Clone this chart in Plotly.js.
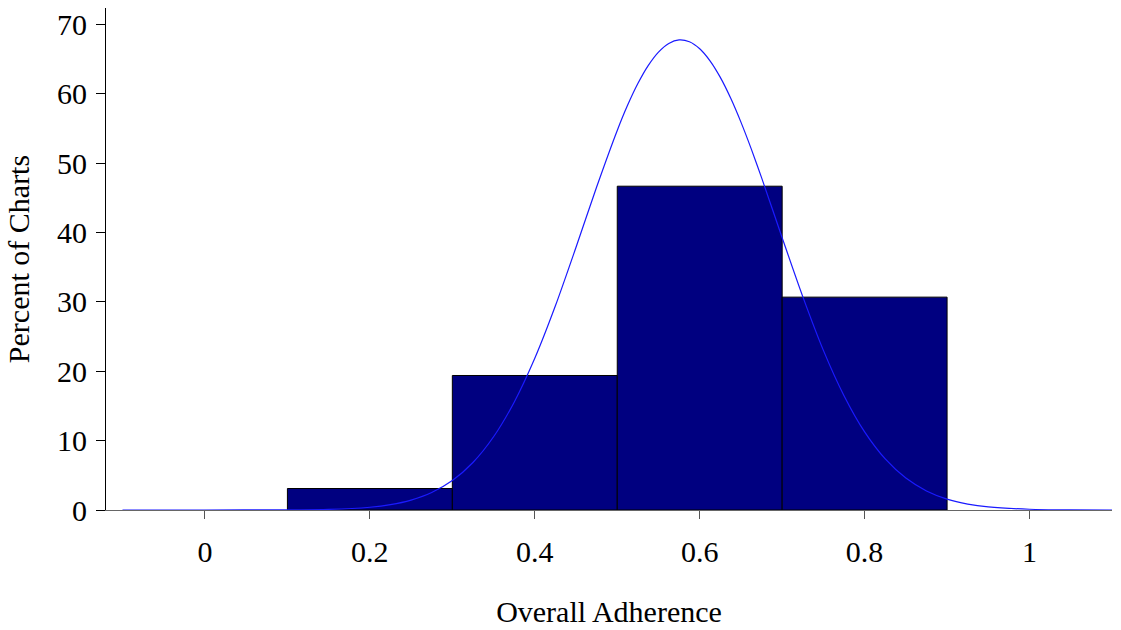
<!DOCTYPE html>
<html>
<head>
<meta charset="utf-8">
<script src="https://cdn.plot.ly/plotly-3.0.1.min.js"></script>
<style>html,body{margin:0;padding:0;background:#fff;}#chart{width:1121px;height:630px;}</style>
</head>
<body>
<div id="chart"></div>
<script>
// Histogram bins (bin centers, width 0.2) and percent of charts
const binCenters = [0.2, 0.4, 0.6, 0.8];
const binPercent = [3.1, 19.4, 46.7, 30.7];
const binWidth = 0.2;

// Fitted normal curve
const curveX = [-0.1, 0.0, 0.1, 0.15, 0.2, 0.225, 0.25, 0.275, 0.3, 0.325, 0.35, 0.375, 0.4, 0.425, 0.45, 0.475, 0.5, 0.5125, 0.525, 0.5375, 0.55, 0.5625, 0.575, 0.5875, 0.6, 0.6125, 0.625, 0.6375, 0.65, 0.6625, 0.675, 0.7, 0.725, 0.75, 0.775, 0.8, 0.825, 0.85, 0.875, 0.9, 0.925, 0.95, 1.0, 1.05, 1.1];
const curveY = [0, 0, 0.02, 0.09, 0.4, 0.77, 1.43, 2.52, 4.25, 6.85, 10.56, 15.55, 21.88, 29.45, 37.89, 46.58, 54.74, 58.36, 61.5, 64.09, 66.04, 67.29, 67.79, 67.53, 66.52, 64.78, 62.39, 59.41, 55.94, 52.08, 47.94, 39.27, 30.77, 23.02, 16.48, 11.26, 7.36, 4.6, 2.75, 1.57, 0.86, 0.45, 0.11, 0.02, 0];

const xTicks = [0, 0.2, 0.4, 0.6, 0.8, 1];
const xTickText = ['0', '0.2', '0.4', '0.6', '0.8', '1'];
const yTicks = [0, 10, 20, 30, 40, 50, 60, 70];

const font = 'Liberation Serif, Times New Roman, serif';

const traces = [
  {
    type: 'bar',
    x: binCenters,
    y: binPercent,
    width: binPercent.map(() => binWidth),
    marker: {color: '#000080', line: {color: '#000000', width: 1}},
    hoverinfo: 'x+y'
  },
  {
    type: 'scatter',
    mode: 'lines',
    x: curveX,
    y: curveY,
    line: {color: '#1a1aff', width: 1.2, shape: 'spline', smoothing: 0.8},
    hoverinfo: 'x+y'
  }
];

const layout = {
  width: 1121,
  height: 630,
  margin: {l: 106, r: 9, t: 8, b: 120},
  paper_bgcolor: '#ffffff',
  plot_bgcolor: '#ffffff',
  showlegend: false,
  bargap: 0,
  font: {family: font, color: '#000000', size: 30},
  xaxis: {
    range: [-0.12, 1.1],
    tickvals: xTicks,
    ticktext: xTickText,
    ticks: 'outside',
    ticklen: 8,
    tickwidth: 1,
    tickcolor: '#555555',
    showline: true,
    linecolor: '#666666',
    linewidth: 1,
    showgrid: false,
    zeroline: false,
    ticklabelstandoff: 7,
    tickfont: {family: font, size: 30, color: '#000'},
    title: {text: 'Overall Adherence', font: {family: font, size: 30, color: '#000'}, standoff: 33}
  },
  yaxis: {
    range: [0, 72.4],
    tickvals: yTicks,
    ticks: 'outside',
    ticklen: 9,
    tickwidth: 1,
    tickcolor: '#000000',
    showline: true,
    linecolor: '#000000',
    linewidth: 1,
    showgrid: false,
    zeroline: false,
    ticklabelstandoff: 3,
    tickfont: {family: font, size: 30, color: '#000'},
    title: {text: 'Percent of Charts', font: {family: font, size: 30, color: '#000'}, standoff: 18}
  }
};

Plotly.newPlot('chart', traces, layout, {displayModeBar: false, staticPlot: true});
</script>
</body>
</html>
